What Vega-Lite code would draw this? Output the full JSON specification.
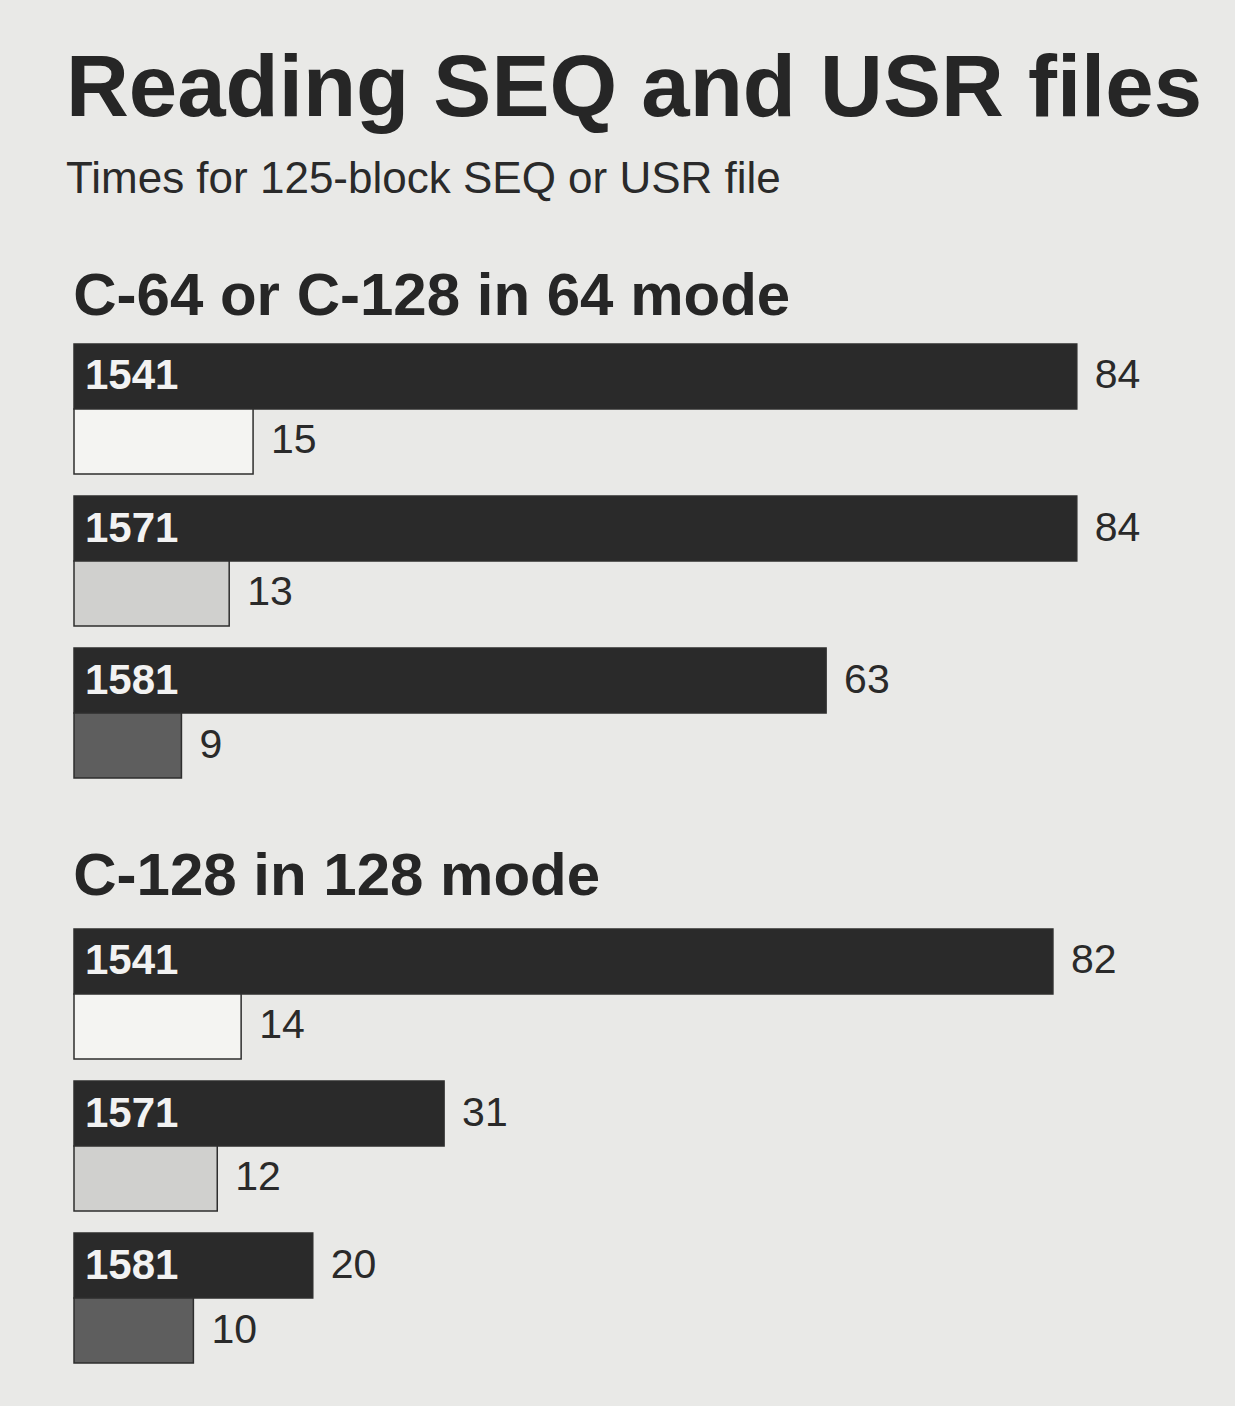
{
  "$schema": "https://vega.github.io/schema/vega-lite/v6.json",
  "background": "#e9e9e7",
  "padding": {"left": 66, "top": 46, "right": 3, "bottom": 46},
  "title": {
    "text": "Reading SEQ and USR files",
    "subtitle": "Times for 125-block SEQ or USR file",
    "anchor": "start",
    "frame": "group",
    "dx": -8,
    "font": "Liberation Sans",
    "fontSize": 87,
    "fontWeight": "bold",
    "color": "#262626",
    "subtitleFont": "Liberation Sans",
    "subtitleFontSize": 44,
    "subtitleColor": "#2a2a2a",
    "subtitlePadding": 24,
    "offset": 64
  },
  "datasets": {
    "times": [
      {"group": "C-64 or C-128 in 64 mode", "drive": "1541", "kind": "standard", "seconds": 84},
      {"group": "C-64 or C-128 in 64 mode", "drive": "1541", "kind": "fast", "seconds": 15},
      {"group": "C-64 or C-128 in 64 mode", "drive": "1571", "kind": "standard", "seconds": 84},
      {"group": "C-64 or C-128 in 64 mode", "drive": "1571", "kind": "fast", "seconds": 13},
      {"group": "C-64 or C-128 in 64 mode", "drive": "1581", "kind": "standard", "seconds": 63},
      {"group": "C-64 or C-128 in 64 mode", "drive": "1581", "kind": "fast", "seconds": 9},
      {"group": "C-128 in 128 mode", "drive": "1541", "kind": "standard", "seconds": 82},
      {"group": "C-128 in 128 mode", "drive": "1541", "kind": "fast", "seconds": 14},
      {"group": "C-128 in 128 mode", "drive": "1571", "kind": "standard", "seconds": 31},
      {"group": "C-128 in 128 mode", "drive": "1571", "kind": "fast", "seconds": 12},
      {"group": "C-128 in 128 mode", "drive": "1581", "kind": "standard", "seconds": 20},
      {"group": "C-128 in 128 mode", "drive": "1581", "kind": "fast", "seconds": 10}
    ]
  },
  "spacing": 68,
  "vconcat": [
    {
      "title": {"text": "C-64 or C-128 in 64 mode", "anchor": "start", "font": "Liberation Sans", "fontSize": 60, "fontWeight": "bold", "color": "#262626", "offset": 15},
      "width": 1158,
      "height": 434,
      "data": {"name": "times"},
      "transform": [{"filter": "datum.group === 'C-64 or C-128 in 64 mode'"}],
      "encoding": {
        "y": {"field": "drive", "type": "nominal", "sort": ["1541", "1571", "1581"], "scale": {"paddingInner": 0.145, "paddingOuter": 0}, "axis": null},
        "yOffset": {"field": "kind", "type": "nominal", "sort": ["standard", "fast"], "scale": {"paddingInner": 0, "paddingOuter": 0}},
        "x": {"field": "seconds", "type": "quantitative", "scale": {"domain": [0, 97]}, "axis": null}
      },
      "layer": [
        {
          "mark": {"type": "bar", "stroke": "#2e2e2e", "strokeWidth": 1.5},
          "encoding": {
            "color": {
              "condition": {"test": "datum.kind === 'standard'", "value": "#2a2a2a"},
              "field": "drive", "type": "nominal",
              "scale": {"domain": ["1541", "1571", "1581"], "range": ["#f4f4f2", "#d0d0ce", "#5e5e5e"]},
              "legend": null
            }
          }
        },
        {
          "mark": {"type": "text", "align": "left", "baseline": "middle", "dx": 18, "font": "Liberation Sans", "fontSize": 41, "color": "#2a2a2a"},
          "encoding": {"text": {"field": "seconds", "type": "quantitative"}}
        },
        {
          "transform": [{"filter": "datum.kind === 'standard'"}],
          "mark": {"type": "text", "align": "left", "baseline": "middle", "dx": 11, "font": "Liberation Sans", "fontSize": 42, "fontWeight": "bold", "color": "#f2f2f2"},
          "encoding": {"x": {"datum": 0}, "text": {"field": "drive", "type": "nominal"}}
        }
      ]
    },
    {
      "title": {"text": "C-128 in 128 mode", "anchor": "start", "font": "Liberation Sans", "fontSize": 60, "fontWeight": "bold", "color": "#262626", "offset": 20},
      "width": 1158,
      "height": 434,
      "data": {"name": "times"},
      "transform": [{"filter": "datum.group === 'C-128 in 128 mode'"}],
      "encoding": {
        "y": {"field": "drive", "type": "nominal", "sort": ["1541", "1571", "1581"], "scale": {"paddingInner": 0.145, "paddingOuter": 0}, "axis": null},
        "yOffset": {"field": "kind", "type": "nominal", "sort": ["standard", "fast"], "scale": {"paddingInner": 0, "paddingOuter": 0}},
        "x": {"field": "seconds", "type": "quantitative", "scale": {"domain": [0, 97]}, "axis": null}
      },
      "layer": [
        {
          "mark": {"type": "bar", "stroke": "#2e2e2e", "strokeWidth": 1.5},
          "encoding": {
            "color": {
              "condition": {"test": "datum.kind === 'standard'", "value": "#2a2a2a"},
              "field": "drive", "type": "nominal",
              "scale": {"domain": ["1541", "1571", "1581"], "range": ["#f4f4f2", "#d0d0ce", "#5e5e5e"]},
              "legend": null
            }
          }
        },
        {
          "mark": {"type": "text", "align": "left", "baseline": "middle", "dx": 18, "font": "Liberation Sans", "fontSize": 41, "color": "#2a2a2a"},
          "encoding": {"text": {"field": "seconds", "type": "quantitative"}}
        },
        {
          "transform": [{"filter": "datum.kind === 'standard'"}],
          "mark": {"type": "text", "align": "left", "baseline": "middle", "dx": 11, "font": "Liberation Sans", "fontSize": 42, "fontWeight": "bold", "color": "#f2f2f2"},
          "encoding": {"x": {"datum": 0}, "text": {"field": "drive", "type": "nominal"}}
        }
      ]
    }
  ],
  "config": {"view": {"stroke": null}}
}
